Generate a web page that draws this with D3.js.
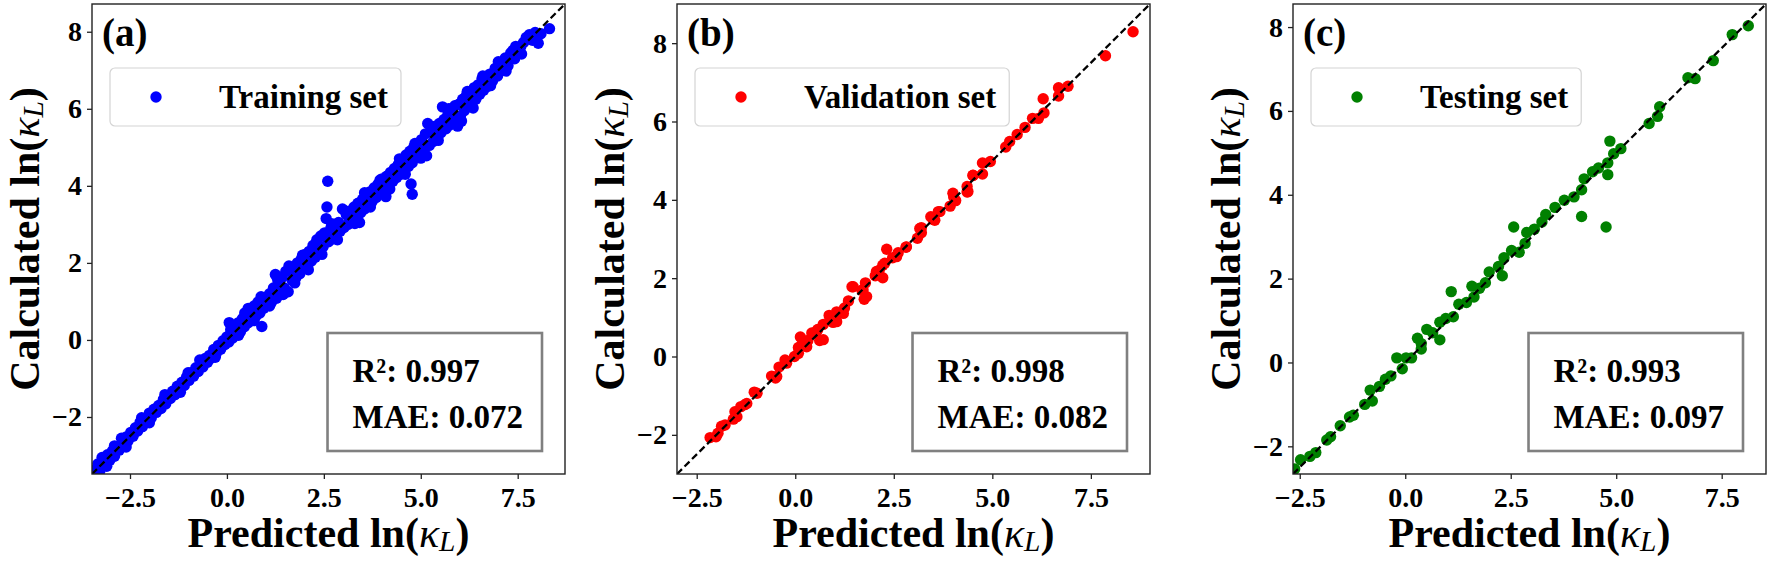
<!DOCTYPE html>
<html>
<head>
<meta charset="utf-8">
<script src="https://cdn.jsdelivr.net/npm/d3@7"></script>
<style>
  body { margin: 0; background: #fff; }
  text { font-family: "Liberation Serif", "Times New Roman", serif; font-weight: bold; fill: #000; }
</style>
</head>
<body>
<div id="chart"></div>
<script>
// ---- data: [predicted, calculated] ----
const trainingSet = [
  [-3.40,-3.38],[-3.33,-3.22],[-3.28,-3.40],[-3.22,-3.05],[-3.15,-3.20],[-3.10,-3.28],[-3.08,-2.98],[-3.02,-3.12],
  [-2.95,-2.88],[-2.90,-3.02],[-2.90,-2.75],[-2.84,-2.78],[-2.78,-2.86],[-2.72,-2.55],[-2.66,-2.70],[-2.60,-2.52],
  [-2.60,-2.78],[-2.55,-2.62],[-2.48,-2.40],[-2.42,-2.50],[-2.36,-2.28],[-2.30,-2.36],[-2.24,-2.14],[-2.20,-2.02],
  [-2.18,-2.25],[-2.12,-2.05],[-2.06,-2.12],[-2.00,-1.90],[-2.00,-2.15],[-1.95,-2.02],[-1.88,-1.80],[-1.82,-1.88],
  [-1.76,-1.70],[-1.70,-1.78],[-1.64,-1.55],[-1.60,-1.42],[-1.58,-1.66],[-1.52,-1.46],[-1.46,-1.52],[-1.40,-1.33],
  [-1.34,-1.42],[-1.28,-1.20],[-1.22,-1.30],[-1.20,-1.36],[-1.16,-1.10],[-1.10,-1.18],[-1.04,-0.96],[-1.00,-0.85],
  [-0.98,-1.05],[-0.92,-0.85],[-0.86,-0.94],[-0.80,-0.72],[-0.74,-0.82],[-0.70,-0.52],[-0.68,-0.60],[-0.62,-0.70],
  [-0.56,-0.48],[-0.50,-0.58],[-0.45,-0.40],[-0.40,-0.47],[-0.34,-0.25],[-0.30,-0.45],[-0.28,-0.36],[-0.22,-0.14],
  [-0.16,-0.24],[-0.10,-0.02],[-0.05,-0.12],[0.00,0.08],[0.05,-0.05],[0.06,0.45],[0.10,0.20],[0.10,0.28],
  [0.15,0.05],[0.20,0.32],[0.25,0.14],[0.30,0.45],[0.30,0.12],[0.35,0.22],[0.40,0.55],[0.45,0.34],[0.46,0.70],
  [0.50,0.65],[0.55,0.45],[0.55,0.82],[0.60,0.78],[0.65,0.52],[0.70,0.88],[0.70,0.50],[0.75,0.62],[0.80,0.98],
  [0.85,0.70],[0.88,1.12],[0.90,0.35],[0.92,1.02],[0.95,0.82],[1.00,1.10],[1.05,0.92],[1.10,1.20],[1.10,0.88],
  [1.15,0.98],[1.20,1.35],[1.25,1.70],[1.28,1.08],[1.30,1.60],[1.32,1.52],[1.38,1.20],[1.42,1.62],[1.45,1.18],
  [1.48,1.35],[1.52,1.78],[1.58,1.25],[1.60,1.92],[1.62,1.80],[1.68,1.55],[1.72,1.90],[1.75,1.48],[1.78,1.62],
  [1.82,2.00],[1.88,1.72],[1.92,2.10],[1.95,2.20],[1.98,1.85],[2.02,2.22],[2.08,1.92],[2.10,1.82],[2.12,2.30],
  [2.18,2.05],[2.22,2.45],[2.28,2.15],[2.30,2.52],[2.32,2.60],[2.38,2.32],[2.42,2.70],[2.45,2.22],[2.48,2.42],
  [2.52,2.78],[2.56,3.15],[2.58,3.45],[2.60,4.12],[2.62,2.55],[2.68,2.90],[2.70,3.02],[2.72,2.62],[2.78,3.00],
  [2.82,2.72],[2.85,2.60],[2.88,3.05],[2.92,2.82],[2.98,3.40],[3.02,2.92],[3.05,3.35],[3.08,3.25],[3.12,3.00],
  [3.18,3.35],[3.22,3.08],[3.28,3.45],[3.30,3.02],[3.32,3.18],[3.38,3.55],[3.42,3.05],[3.45,3.30],[3.50,3.65],
  [3.55,3.40],[3.55,3.82],[3.60,3.75],[3.65,3.50],[3.70,3.85],[3.70,3.45],[3.75,3.60],[3.80,3.95],[3.85,3.70],
  [3.90,4.05],[3.95,3.85],[3.95,4.15],[4.00,4.18],[4.05,3.92],[4.10,3.72],[4.12,4.25],[4.18,4.02],[4.20,3.92],
  [4.22,4.35],[4.28,4.12],[4.32,4.45],[4.38,4.22],[4.42,4.55],[4.45,4.70],[4.48,4.30],[4.52,4.68],[4.58,4.40],
  [4.60,4.30],[4.62,4.80],[4.68,4.50],[4.72,4.90],[4.75,4.05],[4.78,3.78],[4.78,4.60],[4.82,5.00],[4.85,5.10],
  [4.88,4.75],[4.92,5.05],[4.98,4.85],[5.00,4.72],[5.02,5.20],[5.08,4.92],[5.12,5.35],[5.15,4.78],[5.18,5.62],
  [5.22,5.05],[5.25,5.55],[5.28,5.42],[5.32,5.15],[5.38,5.55],[5.42,5.28],[5.45,5.18],[5.48,5.62],[5.52,5.38],
  [5.56,6.05],[5.60,5.72],[5.65,5.48],[5.70,5.85],[5.72,6.00],[5.75,5.58],[5.80,6.00],[5.85,5.70],[5.88,6.08],
  [5.92,5.62],[5.95,5.55],[5.98,6.12],[6.02,5.80],[6.05,5.68],[6.08,6.25],[6.12,5.95],[6.18,6.35],[6.20,6.45],
  [6.22,6.05],[6.28,6.45],[6.32,6.15],[6.35,6.02],[6.38,6.55],[6.42,6.25],[6.48,6.62],[6.52,6.38],[6.58,6.78],
  [6.60,6.85],[6.62,6.48],[6.68,6.82],[6.72,6.58],[6.78,6.90],[6.80,6.60],[6.85,6.72],[6.92,7.05],[6.98,6.85],
  [7.00,7.22],[7.05,7.15],[7.12,7.00],[7.18,7.32],[7.20,6.98],[7.25,7.12],[7.32,7.45],[7.38,7.52],[7.42,7.30],
  [7.45,7.62],[7.50,7.58],[7.58,7.62],[7.60,7.42],[7.65,7.72],[7.72,7.85],[7.80,7.92],[7.88,7.78],[7.95,7.98],
  [8.03,7.70],[8.10,7.95],[8.32,8.08]
];
const validationSet = [
  [-2.16,-2.07],[-2.01,-2.05],[-1.96,-1.96],[-1.87,-1.78],[-1.78,-1.75],[-1.57,-1.60],[-1.53,-1.41],[-1.48,-1.54],
  [-1.38,-1.28],[-1.28,-1.23],[-1.23,-1.20],[-1.04,-0.91],[-0.97,-0.94],[-0.60,-0.50],[-0.50,-0.55],[-0.47,-0.51],
  [-0.41,-0.27],[-0.26,-0.09],[-0.22,-0.17],[-0.02,0.00],[0.08,0.23],[0.08,0.08],[0.13,0.50],[0.18,0.32],
  [0.29,0.25],[0.32,0.41],[0.42,0.60],[0.54,0.64],[0.57,0.69],[0.62,0.41],[0.71,0.43],[0.71,0.82],[0.86,1.05],
  [0.88,1.02],[0.96,0.87],[1.05,0.89],[1.05,1.14],[1.22,1.10],[1.25,1.24],[1.35,1.42],[1.44,1.78],[1.47,1.78],
  [1.69,1.69],[1.72,1.70],[1.75,1.46],[1.81,1.53],[1.78,1.88],[2.03,2.06],[2.06,2.17],[2.13,2.20],[2.22,2.01],
  [2.22,2.33],[2.27,2.38],[2.32,2.74],[2.47,2.52],[2.57,2.55],[2.61,2.65],[2.81,2.79],[2.82,2.80],[3.10,3.02],
  [3.16,3.27],[3.20,3.16],[3.20,3.29],[3.44,3.57],[3.50,3.50],[3.54,3.48],[3.63,3.70],[3.67,3.70],[3.93,3.84],
  [4.00,4.17],[4.02,4.07],[4.07,3.98],[4.36,4.34],[4.36,4.20],[4.38,4.21],[4.51,4.62],[4.51,4.63],[4.75,4.94],
  [4.75,4.66],[4.95,4.98],[5.34,5.35],[5.44,5.49],[5.63,5.67],[5.83,5.85],[6.02,6.08],[6.17,6.08],[6.31,6.22],
  [6.29,6.58],[6.68,6.86],[6.68,6.65],[6.92,6.90],[7.87,7.68],[8.57,8.29]
];
const testingSet = [
  [-2.62,-2.54],[-2.48,-2.32],[-2.26,-2.24],[-2.12,-2.15],[-1.86,-1.85],[-1.77,-1.77],[-1.54,-1.51],[-1.32,-1.30],
  [-1.23,-1.26],[-0.96,-1.00],[-0.83,-0.66],[-0.78,-0.92],[-0.61,-0.57],[-0.47,-0.40],[-0.34,-0.32],[-0.20,0.11],
  [-0.07,-0.15],[0.02,0.11],[0.15,0.11],[0.29,0.58],[0.38,0.45],[0.38,0.32],[0.51,0.79],[0.65,0.71],[0.82,0.96],
  [0.82,0.54],[0.96,1.05],[1.09,1.69],[1.14,1.09],[1.27,1.39],[1.45,1.43],[1.58,1.82],[1.63,1.56],[1.76,1.77],
  [1.90,1.90],[1.99,2.16],[2.21,2.29],[2.30,2.07],[2.34,2.50],[2.52,2.67],[2.57,3.23],[2.70,2.63],[2.84,2.84],
  [2.88,3.10],[3.06,3.18],[3.24,3.35],[3.33,3.53],[3.55,3.70],[3.77,3.87],[4.00,3.95],[4.18,4.12],[4.18,3.48],
  [4.24,4.38],[4.44,4.55],[4.58,4.64],[4.76,3.23],[4.80,4.76],[4.80,4.48],[4.85,5.28],[4.94,4.98],[5.11,5.10],
  [5.78,5.70],[5.98,5.87],[6.03,6.10],[6.70,6.79],[6.87,6.77],[7.30,7.20],[7.75,7.82],[8.13,8.03]
];

const datasets = [trainingSet, validationSet, testingSet];
const panelLabels = ["(a)", "(b)", "(c)"];
const legendNames = ["Training set", "Validation set", "Testing set"];
const pointColors = ["#0000ff", "#ff0000", "#008000"];
const r2Values = ["0.997", "0.998", "0.993"];
const maeValues = ["0.072", "0.082", "0.097"];
const axisLimits = [[-3.48, 8.72], [-3.0, 9.0], [-2.66, 8.55]];
const xTicks = [-2.5, 0, 2.5, 5, 7.5];
const yTicks = [-2, 0, 2, 4, 6, 8];

// ---- layout ----
const W = 1772, H = 561;
const panelLeft = [92, 677, 1293];
const plotTop = 4, plotW = 473, plotH = 470;

const svg = d3.select("#chart").append("svg")
  .attr("width", W).attr("height", H);

// writes "<prefix> ln(κ_L)" into a text element
function kappaLabel(sel, prefix) {
  sel.append("tspan").text(prefix + " ln(");
  sel.append("tspan").attr("font-style", "italic").attr("font-weight", "normal").text("κ");
  sel.append("tspan").attr("font-style", "italic").attr("font-weight", "normal")
    .attr("font-size", "0.7em").attr("dy", "0.15em").text("L");
  sel.append("tspan").attr("dy", "-0.105em").text(")");
}

datasets.forEach((data, i) => {
  const lim = axisLimits[i];
  const x = d3.scaleLinear().domain(lim).range([0, plotW]);
  const y = d3.scaleLinear().domain(lim).range([plotH, 0]);

  const g = svg.append("g").attr("transform", `translate(${panelLeft[i]},${plotTop})`);

  g.append("clipPath").attr("id", "clip" + i)
    .append("rect").attr("width", plotW).attr("height", plotH);

  // points
  g.append("g").attr("clip-path", `url(#clip${i})`)
    .selectAll("circle")
    .data(data)
    .join("circle")
    .attr("cx", d => x(d[0]))
    .attr("cy", d => y(d[1]))
    .attr("r", 5.7)
    .attr("fill", pointColors[i]);

  // y = x reference line
  g.append("line")
    .attr("clip-path", `url(#clip${i})`)
    .attr("x1", x(lim[0])).attr("y1", y(lim[0]))
    .attr("x2", x(lim[1])).attr("y2", y(lim[1]))
    .attr("stroke", "#000").attr("stroke-width", 2.3)
    .attr("stroke-dasharray", "7,3.6");

  // axes
  const xAxis = g.append("g").attr("transform", `translate(0,${plotH})`)
    .call(d3.axisBottom(x).tickValues(xTicks).tickFormat(d3.format(".1f")).tickSize(5).tickPadding(8));
  const yAxis = g.append("g")
    .call(d3.axisLeft(y).tickValues(yTicks).tickFormat(d3.format("d")).tickSize(5).tickPadding(5));
  [xAxis, yAxis].forEach(a => {
    a.select(".domain").remove();
    a.selectAll(".tick line").attr("stroke", "#222").attr("stroke-width", 1.3);
    a.selectAll(".tick text").attr("font-size", 28).attr("fill", "#000")
      .style("font-family", "'Liberation Serif', serif").style("font-weight", "bold");
  });

  g.append("rect").attr("width", plotW).attr("height", plotH)
    .attr("fill", "none").attr("stroke", "#222").attr("stroke-width", 1.4);

  // panel label
  g.append("text").attr("x", 10).attr("y", 42).attr("font-size", 39).text(panelLabels[i]);

  // legend
  const leg = g.append("g");
  const legRect = leg.append("rect")
    .attr("x", 18).attr("y", 64).attr("height", 58).attr("rx", 5)
    .attr("fill", "#fff").attr("fill-opacity", 0.8)
    .attr("stroke", "#d4d4d4").attr("stroke-width", 1.2);
  leg.append("circle").attr("cx", 64).attr("cy", 93).attr("r", 5.7).attr("fill", pointColors[i]);
  const legText = leg.append("text").attr("x", 127).attr("y", 104).attr("font-size", 33).text(legendNames[i]);
  legRect.attr("width", 127 + legText.node().getComputedTextLength() + 13 - 18);

  // metrics box
  const box = g.append("g");
  const boxRect = box.append("rect").attr("fill", "#fff")
    .attr("stroke", "#808080").attr("stroke-width", 2.6);
  const t1 = box.append("text").attr("font-size", 33).text(`R²: ${r2Values[i]}`);
  const t2 = box.append("text").attr("font-size", 33).text(`MAE: ${maeValues[i]}`);
  const tw = Math.max(t1.node().getComputedTextLength(), t2.node().getComputedTextLength());
  const bw = tw + 44, bh = 118;
  const bx = plotW - 23 - bw, by = plotH - 23 - bh;
  boxRect.attr("x", bx).attr("y", by).attr("width", bw).attr("height", bh);
  t1.attr("x", bx + 25).attr("y", by + 49);
  t2.attr("x", bx + 25).attr("y", by + 95);

  // axis titles
  const xl = g.append("text").attr("x", plotW / 2).attr("y", 543)
    .attr("text-anchor", "middle").attr("font-size", 42);
  kappaLabel(xl, "Predicted");
  const yl = g.append("text")
    .attr("transform", `translate(-53,${plotH / 2}) rotate(-90)`)
    .attr("text-anchor", "middle").attr("font-size", 42);
  kappaLabel(yl, "Calculated");
});
</script>
</body>
</html>
